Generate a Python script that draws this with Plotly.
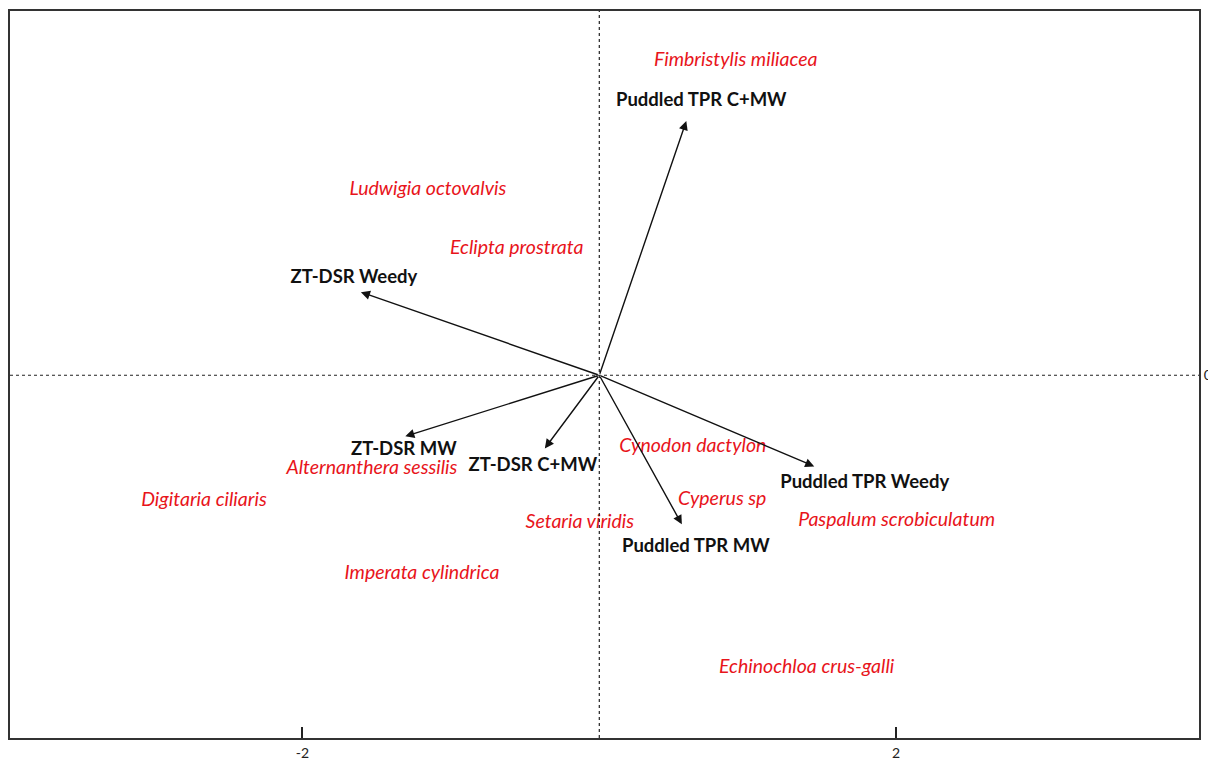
import plotly.graph_objects as go

# Treatment vectors (arrow tips) and label positions
treatments = ["Puddled TPR C+MW", "ZT-DSR Weedy", "ZT-DSR MW", "ZT-DSR C+MW",
              "Puddled TPR Weedy", "Puddled TPR MW"]
treat_x = [0.586, -1.606, -1.307, -0.367, 1.448, 0.556]
treat_y = [1.710, 0.559, -0.411, -0.492, -0.613, -1.003]
treat_label_x = [0.687, -1.653, -1.317, -0.448, 1.788, 0.650]
treat_label_y = [1.845, 0.653, -0.505, -0.613, -0.727, -1.158]

# Species scores
species = ["Fimbristylis miliacea", "Ludwigia octovalvis", "Eclipta prostrata",
           "Alternanthera sessilis", "Digitaria ciliaris", "Cynodon dactylon",
           "Cyperus sp", "Paspalum scrobiculatum", "Setaria viridis",
           "Imperata cylindrica", "Echinochloa crus-galli"]
species_x = [0.919, -1.155, -0.556, -1.532, -2.663, 0.630, 0.828, 2.003, -0.131, -1.195, 1.397]
species_y = [2.114, 1.246, 0.849, -0.633, -0.848, -0.485, -0.842, -0.983, -0.997, -1.340, -1.973]

x_ticks = [-2, 2]
y_ticks = [0]

FONT = "Lato"

fig = go.Figure()

fig.add_trace(go.Scatter(
    x=species_x, y=species_y, mode="text", text=species,
    textfont=dict(family=FONT, size=19.5, color="#e8141b", style="italic"),
    hoverinfo="text", showlegend=False))

fig.add_trace(go.Scatter(
    x=treat_label_x, y=treat_label_y, mode="text", text=treatments,
    textfont=dict(family=FONT, size=18.5, color="#111111", weight="bold"),
    hoverinfo="text", showlegend=False))

for tx, ty in zip(treat_x, treat_y):
    fig.add_annotation(x=tx, y=ty, ax=0, ay=0, xref="x", yref="y",
                       axref="x", ayref="y", showarrow=True, text="",
                       arrowhead=2, arrowsize=1.3, arrowwidth=1.4,
                       arrowcolor="#111111")

fig.add_shape(type="line", x0=0, x1=0, y0=0, y1=1, xref="x", yref="paper",
              line=dict(color="#222", width=1.2, dash="dot"))
fig.add_shape(type="line", x0=0, x1=1, y0=0, y1=0, xref="paper", yref="y",
              line=dict(color="#222", width=1.2, dash="dot"))

fig.update_xaxes(range=[-3.97, 4.04], tickvals=x_ticks, ticktext=[str(v) for v in x_ticks],
                 ticks="inside", ticklen=11, tickwidth=1.5, tickcolor="#222",
                 showgrid=False, zeroline=False, showline=True, linecolor="#333",
                 linewidth=2, mirror=True, ticklabelstandoff=1,
                 tickfont=dict(family=FONT, size=14, color="#222"))
fig.update_yaxes(range=[-2.44, 2.45], tickvals=y_ticks, ticktext=["0"], side="right",
                 ticks="", showgrid=False, zeroline=False, showline=True,
                 linecolor="#333", linewidth=2, mirror=True,
                 tickfont=dict(family=FONT, size=14, color="#222"))

fig.update_layout(width=1208, height=759, plot_bgcolor="white", paper_bgcolor="white",
                  margin=dict(l=10, r=9, t=11, b=21, autoexpand=False), showlegend=False)

fig.write_html("out.html", config={"displayModeBar": False},
               post_script="document.body.style.margin='0';document.body.style.overflow='hidden';")
